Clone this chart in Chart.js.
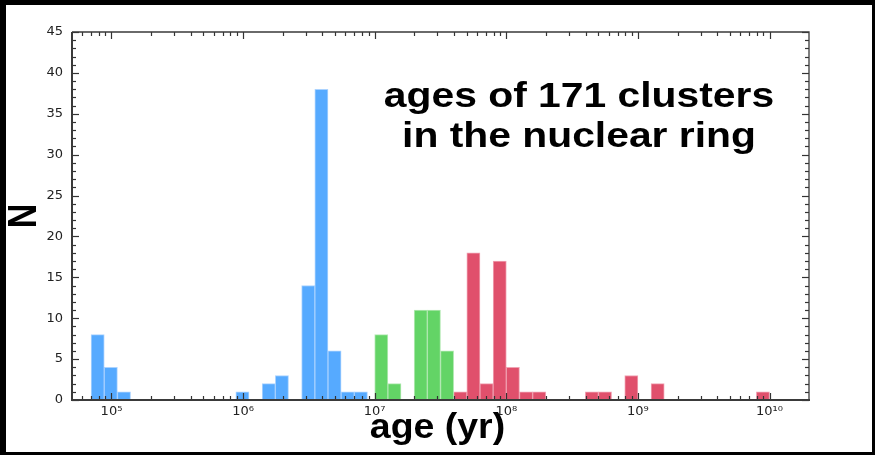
<!DOCTYPE html>
<html>
<head>
<meta charset="utf-8">
<style>
  html, body { margin: 0; padding: 0; background: #000; }
  canvas { display: block; }
</style>
<script src="https://cdn.jsdelivr.net/npm/chart.js@4.4.1/dist/chart.umd.min.js"></script>
</head>
<body>
<canvas id="c" width="875" height="455"></canvas>
<script>
// Histogram of cluster ages, 0.1 dex bins; x values are bin centres in log10(age / yr)
const youngBinCentres = [4.895, 4.995, 5.095, 5.995, 6.195, 6.295, 6.495, 6.595, 6.695, 6.795, 6.895];
const youngCounts     = [8, 4, 1, 1, 2, 3, 14, 38, 6, 1, 1];

const midBinCentres   = [7.05, 7.15, 7.35, 7.45, 7.55];
const midCounts       = [8, 2, 11, 11, 6];

const oldBinCentres   = [7.65, 7.75, 7.85, 7.95, 8.05, 8.15, 8.25, 8.65, 8.75, 8.95, 9.15, 9.95];
const oldCounts       = [1, 18, 2, 17, 4, 1, 1, 1, 1, 3, 2, 1];

// Axis settings
const xLogMin = 4.7, xLogMax = 10.3;
const xTickExponents = [5, 6, 7, 8, 9, 10];
const yMin = 0, yMax = 45, yStep = 5;

const annotationLines = ['ages of 171 clusters', 'in the nuclear ring'];
const xTitle = 'age (yr)';
const yTitle = 'N';

const SUP = {'0':'⁰','1':'¹','2':'²','3':'³','4':'⁴','5':'⁵','6':'⁶','7':'⁷','8':'⁸','9':'⁹'};
const pow10Label = n => '10' + String(n).split('').map(d => SUP[d]).join('');

const toPoints = (xs, ys) => xs.map((x, i) => ({ x, y: ys[i] }));

const barStyle = {
  borderWidth: 1,
  borderSkipped: 'bottom',
  barPercentage: 1,
  categoryPercentage: 1,
  grouped: false
};

// Frame, inward tick marks on all four sides, and bold annotation text
const decorations = {
  id: 'decorations',
  beforeDraw(chart) {
    const c = chart.ctx;
    c.save();
    c.fillStyle = '#000';
    c.fillRect(0, 0, chart.width, chart.height);
    c.fillStyle = '#fff';
    c.fillRect(6, 5, 866, 447);
    c.restore();
  },
  afterDraw(chart) {
    const c = chart.ctx;
    const a = chart.chartArea;
    const xs = chart.scales.x, ys = chart.scales.y;
    c.save();
    c.strokeStyle = '#333';

    // tick marks
    c.lineWidth = 1.2;
    const vTick = (px, len) => {
      c.beginPath(); c.moveTo(px, a.bottom); c.lineTo(px, a.bottom - len); c.stroke();
      c.beginPath(); c.moveTo(px, a.top); c.lineTo(px, a.top + len); c.stroke();
    };
    const hTick = (py, len) => {
      c.beginPath(); c.moveTo(a.left, py); c.lineTo(a.left + len, py); c.stroke();
      c.beginPath(); c.moveTo(a.right, py); c.lineTo(a.right - len, py); c.stroke();
    };
    for (let n = Math.floor(xLogMin); n <= Math.ceil(xLogMax); n++) {
      if (n >= xLogMin && n <= xLogMax) vTick(Math.round(xs.getPixelForValue(n)) + 0.5, 7);
      for (let k = 2; k <= 9; k++) {
        const v = n + Math.log10(k);
        if (v > xLogMin && v < xLogMax) vTick(Math.round(xs.getPixelForValue(v)) + 0.5, 4);
      }
    }
    for (let v = yMin; v <= yMax; v++) {
      const py = Math.round(ys.getPixelForValue(v)) + 0.5;
      hTick(py, v % yStep === 0 ? 7 : 4);
    }

    // axes box: heavier bottom/left spines, lighter top/right
    c.strokeStyle = '#3a3a3a';
    c.lineWidth = 1.3;
    c.beginPath();
    c.moveTo(a.left, a.top); c.lineTo(a.right, a.top); c.lineTo(a.right, a.bottom);
    c.stroke();
    c.lineWidth = 2;
    c.beginPath();
    c.moveTo(a.left, a.top); c.lineTo(a.left, a.bottom); c.lineTo(a.right + 1, a.bottom);
    c.stroke();

    // text
    c.fillStyle = '#000';
    const stretched = (text, x, y, size, sx, rot) => {
      c.save();
      c.translate(x, y);
      c.scale(sx, 1);
      if (rot) c.rotate(rot);
      c.font = 'bold ' + size + 'px "Liberation Sans", Arial, sans-serif';
      c.textAlign = 'center';
      c.textBaseline = 'alphabetic';
      c.fillText(text, 0, 0);
      c.restore();
    };
    stretched(annotationLines[0], 579, 107, 35.5, 1.15);
    stretched(annotationLines[1], 579, 147, 35.5, 1.15);
    stretched(xTitle, (a.left + a.right) / 2 - 3, 438, 35, 1.07);
    stretched(yTitle, 36, (a.top + a.bottom) / 2, 34, 1.19, -Math.PI / 2);
    c.restore();
  }
};

new Chart(document.getElementById('c'), {
  type: 'bar',
  data: {
    datasets: [
      Object.assign({ data: toPoints(youngBinCentres, youngCounts), backgroundColor: '#56aaff', borderColor: 'rgba(150,200,255,0.8)' }, barStyle),
      Object.assign({ data: toPoints(midBinCentres, midCounts), backgroundColor: '#63d466', borderColor: 'rgba(160,228,160,0.8)' }, barStyle),
      Object.assign({ data: toPoints(oldBinCentres, oldCounts), backgroundColor: '#e0506c', borderColor: 'rgba(236,140,160,0.8)' }, barStyle)
    ]
  },
  options: {
    responsive: false,
    animation: false,
    devicePixelRatio: 1,
    layout: { padding: { top: 32, right: 66, left: 0, bottom: 0 } },
    plugins: { legend: { display: false }, tooltip: { enabled: false } },
    scales: {
      x: {
        type: 'linear',
        offset: false,
        min: xLogMin,
        max: xLogMax,
        grid: { display: false, drawTicks: false },
        border: { display: false },
        afterBuildTicks: s => { s.ticks = xTickExponents.map(v => ({ value: v })); },
        afterFit: s => { s.height = 55; },
        ticks: {
          padding: 4,
          maxRotation: 0,
          autoSkip: false,
          color: '#222',
          font: { family: '"DejaVu Sans"', size: 13 },
          callback: v => pow10Label(v)
        }
      },
      y: {
        min: yMin,
        max: yMax,
        grid: { display: false, drawTicks: false },
        border: { display: false },
        afterFit: s => { s.width = 72; },
        ticks: {
          stepSize: yStep,
          padding: 9,
          color: '#222',
          font: { family: '"DejaVu Sans"', size: 13 }
        }
      }
    }
  },
  plugins: [decorations]
});
</script>
</body>
</html>
